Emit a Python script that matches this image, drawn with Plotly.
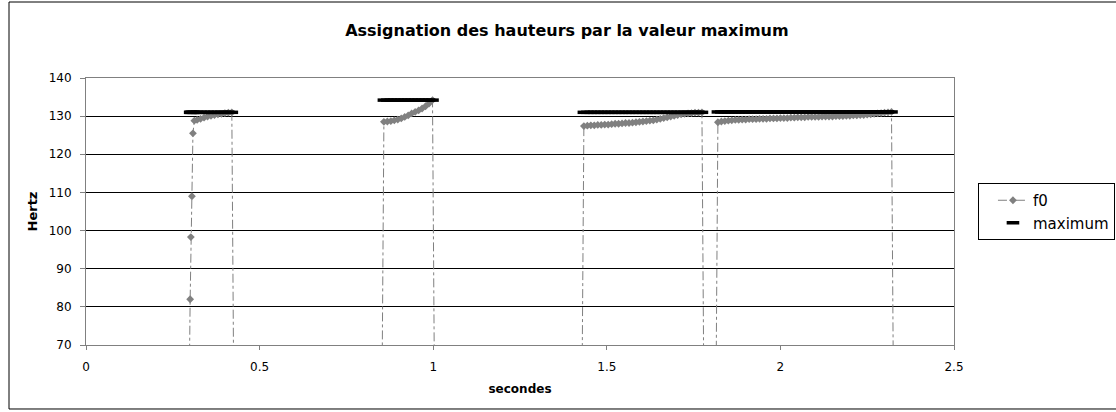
import plotly.graph_objects as go

# f0 par segment voisé (Hz), une trame toutes les 10 ms sauf le début du segment 1
seg1_t = [0.300, 0.302, 0.305, 0.308, 0.312, 0.32, 0.33, 0.34, 0.35, 0.36,
          0.37, 0.38, 0.39, 0.40, 0.41, 0.42]
seg1_f0 = [82.0, 98.3, 109.0, 125.5, 128.8, 129.0, 129.3, 129.6, 129.9, 130.1,
           130.3, 130.5, 130.6, 130.8, 130.9, 131.0]

seg2_start = 0.858
seg2_f0 = [128.5, 128.6, 128.7, 128.9, 129.1, 129.4, 129.8, 130.2, 130.7, 131.1,
           131.5, 132.0, 132.6, 133.3, 134.2]

seg3_start = 1.434
seg3_f0 = [127.4, 127.5, 127.6, 127.6, 127.7, 127.7, 127.8, 127.8, 127.9, 128.0,
           128.0, 128.1, 128.2, 128.2, 128.3, 128.4, 128.5, 128.6, 128.7, 128.8,
           128.9, 129.1, 129.3, 129.5, 129.7, 129.9, 130.1, 130.3, 130.5, 130.6,
           130.7, 130.8, 130.9, 130.9, 131.0]

seg4_start = 1.820
seg4_f0 = [128.4, 128.6, 128.7, 128.8, 128.9, 129.0, 129.0, 129.1, 129.1, 129.2,
           129.2, 129.2, 129.3, 129.3, 129.3, 129.4, 129.4, 129.4, 129.5, 129.5,
           129.5, 129.6, 129.6, 129.7, 129.7, 129.7, 129.8, 129.8, 129.8, 129.8,
           129.9, 129.9, 129.9, 129.9, 130.0, 130.0, 130.0, 130.1, 130.1, 130.2,
           130.2, 130.3, 130.3, 130.4, 130.5, 130.6, 130.7, 130.8, 130.9, 131.0,
           131.1]

frame = 0.01
silence = 0.0  # f0 = 0 hors des segments voisés

segments = [
    (seg1_t, seg1_f0),
    ([round(seg2_start + frame * i, 3) for i in range(len(seg2_f0))], seg2_f0),
    ([round(seg3_start + frame * i, 3) for i in range(len(seg3_f0))], seg3_f0),
    ([round(seg4_start + frame * i, 3) for i in range(len(seg4_f0))], seg4_f0),
]

f0_t, f0_v = [0.0], [silence]
max_t, max_v = [], []
for t, v in segments:
    f0_t += [t[0] - frame] + t + [t[-1] + frame]
    f0_v += [silence] + v + [silence]
    max_t += t
    max_v += [max(v)] * len(v)
f0_t.append(2.4)
f0_v.append(silence)

font = "DejaVu Sans"

fig = go.Figure()
fig.add_trace(go.Scatter(
    x=f0_t, y=f0_v, name="f0", mode="lines+markers",
    line=dict(color="#808080", width=1, dash="dashdot"),
    marker=dict(symbol="diamond", size=6, color="#808080"),
))
fig.add_trace(go.Scatter(
    x=max_t, y=max_v, name="maximum", mode="markers",
    marker=dict(symbol="line-ew", size=9, color="black",
                line=dict(color="black", width=3.5)),
))

# cadre extérieur du graphique (coupé à droite comme l'original)
fig.add_shape(type="rect", xref="paper", yref="paper",
              x0=-0.0887, x1=1.5, y0=-0.2397, y1=1.2846,
              line=dict(color="black", width=1))

fig.update_layout(
    width=1116, height=412,
    margin=dict(l=86, r=162, t=78, b=67, autoexpand=False),
    paper_bgcolor="white", plot_bgcolor="white",
    font=dict(family=font, size=12, color="black"),
    title=dict(text="<b>Assignation des hauteurs par la valeur maximum</b>",
               x=0.508, xanchor="center", y=0.927, yanchor="middle",
               font=dict(family=font, size=16, color="black")),
    showlegend=True,
    legend=dict(x=1.0276, xanchor="left", y=0.6067, yanchor="top",
                bordercolor="black", borderwidth=1, bgcolor="white",
                font=dict(family=font, size=15, color="black"),
                tracegroupgap=0, indentation=14),
)

fig.update_xaxes(
    range=[0, 2.5], dtick=0.5, tick0=0,
    showgrid=False, zeroline=False,
    showline=True, mirror=True, linecolor="#808080", linewidth=1,
    ticks="outside", ticklen=4, tickcolor="#808080",
    ticklabelstandoff=7,
    title=dict(text="<b>secondes</b>", font=dict(family=font, size=12), standoff=11),
)
fig.update_yaxes(
    range=[70, 140], dtick=10, tick0=70,
    showgrid=True, gridcolor="black", gridwidth=1, zeroline=False,
    showline=True, mirror=True, linecolor="#808080", linewidth=1,
    ticks="outside", ticklen=5, tickcolor="#808080",
    ticklabelstandoff=6,
    title=dict(text="<b>Hertz</b>", font=dict(family=font, size=13), standoff=8),
)

# pas de marge de page autour du graphique, pas de barre d'outils
fig.write_html("out.html", config={"displayModeBar": False},
               post_script="document.body.style.margin='0px';")
